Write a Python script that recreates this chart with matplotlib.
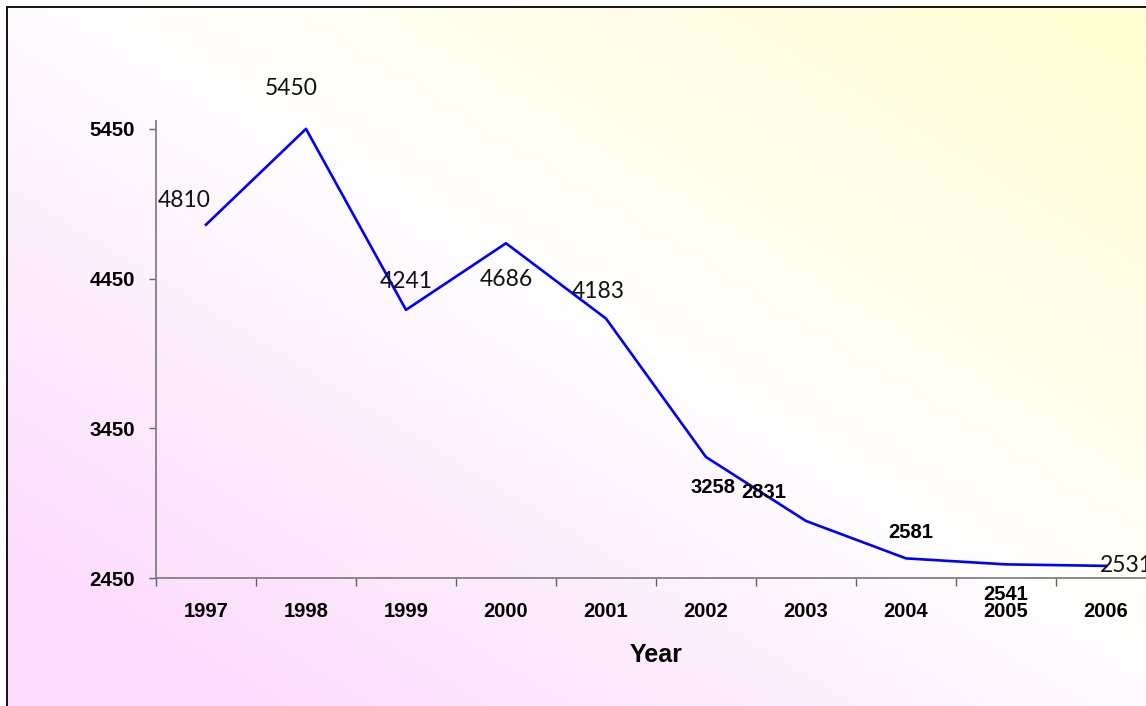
import numpy as np
import matplotlib
matplotlib.use('Agg')
import matplotlib.pyplot as plt
from matplotlib.patches import Rectangle
from matplotlib import font_manager

years = ['1997', '1998', '1999', '2000', '2001', '2002', '2003', '2004', '2005', '2006']
visitors = [4810, 5450, 4241, 4686, 4183, 3258, 2831, 2581, 2541, 2531]
yticks = [2450, 3450, 4450, 5450]

W, H = 1146, 706
fig = plt.figure(figsize=(W/100., H/100.), dpi=100)
fig.patch.set_facecolor('white')

# gradient background inside the frame: pink (bottom left) -> white -> yellow (top right)
bg = fig.add_axes([0, 0, 1, 1], zorder=0)
bg.set_xlim(0, 1)
bg.set_ylim(0, 1)
bg.axis('off')
xs = np.linspace(0, 1, 300)
ys = np.linspace(0, 1, 200)
X, Y = np.meshgrid(xs, ys)
u = X + Y
pink = np.array([252, 219, 252]) / 255.
white = np.array([1., 1., 1.])
yellow = np.array([255, 253, 212]) / 255.
wp = np.clip((1.1 - u) / 0.9, 0, 1)[..., None]
wy = np.clip((u - 1.05) / 0.85, 0, 1)[..., None]
img = white*(1 - wp - wy) + pink*wp + yellow*wy
x0, y1 = 7./W, 1 - 7./H
bg.imshow(img, origin='lower', extent=[x0, 1.01, -0.01, y1], aspect='auto', interpolation='bilinear')
bg.add_patch(Rectangle((x0, -0.05), 1.2, y1 + 0.05, fill=False, edgecolor='black', lw=1.3))

# main plot area
ax = fig.add_axes([156./W, 128./H, 1000./W, 456.6/H], zorder=1)
ax.patch.set_alpha(0)
x = np.arange(len(years))
ax.plot(x, visitors, color='#0000FF', lw=1.9, clip_on=False)

ax.set_xlim(-0.5, len(years) - 0.5)
ax.set_ylim(2450, 5500)
for s in ['top', 'right']:
    ax.spines[s].set_visible(False)
for s in ['left', 'bottom']:
    ax.spines[s].set_color('#808080')
    ax.spines[s].set_linewidth(1.3)

ax.set_xticks(np.arange(-0.5, len(years), 1.0))
ax.set_xticklabels([])
ax.set_xticks(x, minor=True)
ax.set_xticklabels(years, minor=True, fontsize=14.5, fontweight='bold', family='Liberation Sans')
ax.tick_params(axis='x', which='major', direction='out', length=6, width=1, color='#606060')
ax.tick_params(axis='x', which='minor', length=0, pad=17)

ax.set_yticks(yticks)
ax.set_yticklabels([str(t) for t in yticks], fontsize=14.8, fontweight='bold', family='Liberation Sans')
ax.tick_params(axis='y', direction='out', length=5, width=1, color='#606060', pad=10)

ax.set_xlabel('Year', fontsize=18, fontweight='bold', family='Liberation Sans', labelpad=16)

# value labels (pixel offsets from the point, converted to points)
offsets = [(-22, 24), (-15, 40), (0, 28), (0, -36), (-8, 27),
           (7, -30), (-42, 28), (5, 26), (0, -30), (-6, 0)]
bold = [False, False, False, False, False, True, True, True, True, False]
names = [f.name for f in font_manager.fontManager.ttflist]
light_family = 'Lato' if 'Lato' in names else 'DejaVu Sans'
for i, v in enumerate(visitors):
    dx, dy = offsets[i]
    ha = 'left' if i == len(visitors) - 1 else 'center'
    if bold[i]:
        kw = dict(fontsize=14.5, fontweight='bold', family='Liberation Sans', color='black')
    else:
        kw = dict(fontsize=16.5, fontweight='normal', family=light_family, color='#111111')
    ax.annotate(str(v), (x[i], v), xytext=(dx*0.72, dy*0.72), textcoords='offset points',
                ha=ha, va='center', annotation_clip=False, **kw)

plt.savefig('out.png', dpi=100)
